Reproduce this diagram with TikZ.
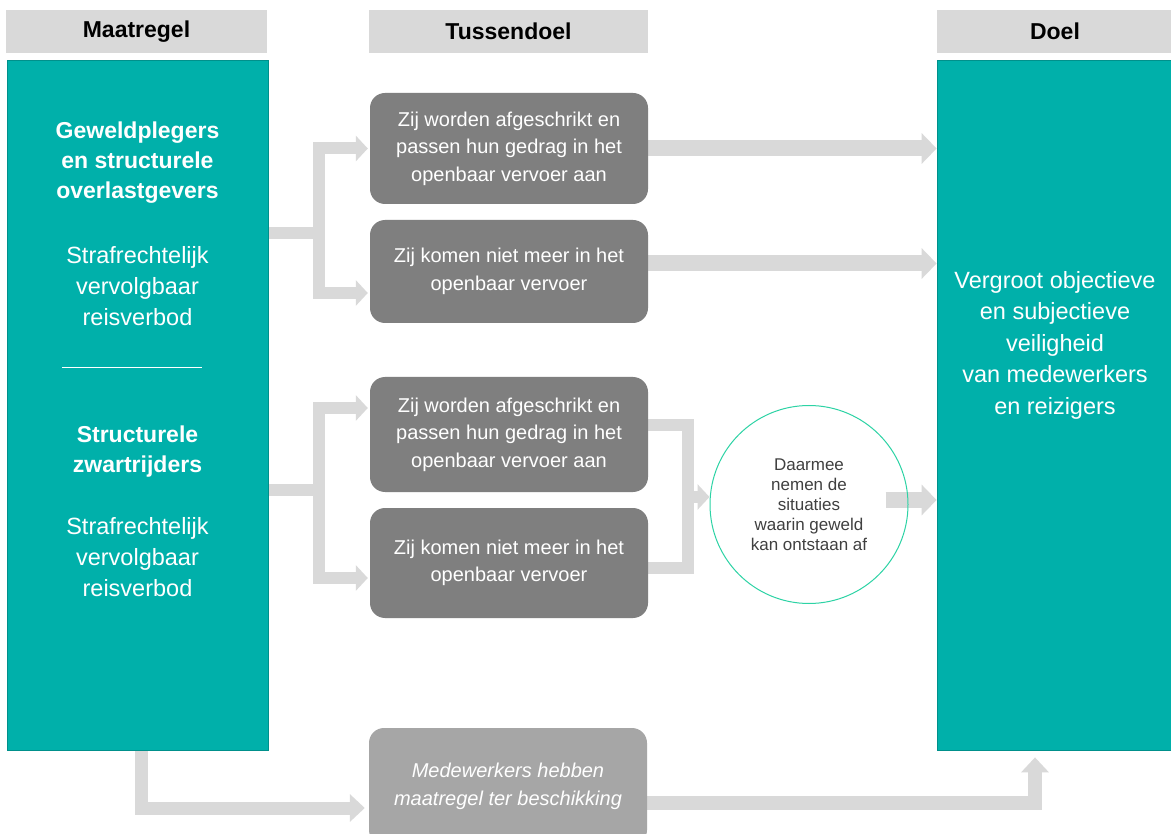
\documentclass[tikz,border=0pt]{standalone}
\usepackage{fontspec}
\setmainfont{Liberation Sans}
\usetikzlibrary{arrows.meta,backgrounds}
\definecolor{tealbox}{HTML}{00B0AA}
\definecolor{tealedge}{HTML}{00908B}
\definecolor{hdr}{HTML}{D9D9D9}
\definecolor{darkbox}{HTML}{7F7F7F}
\definecolor{lightbox}{HTML}{A6A6A6}
\definecolor{conn}{HTML}{D9D9D9}
\definecolor{ring}{HTML}{2DD3A5}
\definecolor{ctext}{HTML}{404040}
\begin{document}
\begin{tikzpicture}[x=1pt,y=-1pt,
  hdrbox/.style={fill=hdr, inner sep=0pt, minimum height=43pt, text=black,
    font=\fontsize{23}{28}\selectfont\bfseries},
  tealcol/.style={fill=tealbox, draw=tealedge, line width=0.8pt, inner sep=0pt},
  graybox/.style={fill=darkbox, rounded corners=15pt, inner sep=0pt,
    minimum width=278pt, text=white, align=center,
    font=\fontsize{20}{27.5}\selectfont},
  wtext/.style={text=white, align=center, inner sep=0pt},
  barline/.style={draw=conn, line width=12pt, line join=miter},
  thinarrow/.style={barline, -{Triangle[width=25pt,length=12pt]}},
  thickarrow/.style={draw=conn, line width=16pt, line join=miter,
    -{Triangle[width=30pt,length=15pt]}},
  midarrow/.style={draw=conn, line width=14pt, line join=miter,
    -{Triangle[width=27pt,length=15pt]}}
]
\useasboundingbox (0,0) rectangle (1171,834);
\clip (0,0) rectangle (1171,834);

% headers
\node[hdrbox, minimum width=261pt] (h1) at (136.5,31.5) {Maatregel};
\node[hdrbox, minimum width=279pt] (h2) at (508.5,31.5) {Tussendoel};
\node[hdrbox, minimum width=236pt] (h3) at (1055,31.5) {Doel};

% teal columns
\node[tealcol, minimum width=261pt, minimum height=690pt] (L) at (137.5,405) {};
\node[tealcol, minimum width=236pt, minimum height=690pt] (R) at (1055,405) {};

% left column texts
\node[wtext, font=\fontsize{23}{30}\selectfont\bfseries] (lt1) at (137.5,163)
  {Geweldplegers\\en structurele\\overlastgevers};
\node[wtext, font=\fontsize{23.5}{31}\selectfont] (lt2) at (137.5,286)
  {Strafrechtelijk\\vervolgbaar\\reisverbod};
\node[wtext, font=\fontsize{23}{30}\selectfont\bfseries] (lt3) at (137.5,452)
  {Structurele\\zwartrijders};
\node[wtext, font=\fontsize{23.5}{31}\selectfont] (lt4) at (137.5,557)
  {Strafrechtelijk\\vervolgbaar\\reisverbod};
\coordinate (sepl) at (62,368);
\coordinate (sepr) at (202,368);
\draw[white, line width=1pt] (sepl) -- (sepr);

% right column text
\node[wtext, font=\fontsize{23.5}{31.5}\selectfont] (rt) at (1055,345)
  {Vergroot objectieve\\en subjectieve\\veiligheid\\van medewerkers\\en reizigers};

% intermediate boxes
\node[graybox, minimum height=111pt] (b1) at (509,148.5)
  {Zij worden afgeschrikt en\\passen hun gedrag in het\\openbaar vervoer aan};
\node[graybox, minimum height=103pt] (b2) at (509,271.5)
  {Zij komen niet meer in het\\openbaar vervoer};
\node[graybox, minimum height=115pt] (b3) at (509,434.5)
  {Zij worden afgeschrikt en\\passen hun gedrag in het\\openbaar vervoer aan};
\node[graybox, minimum height=110pt] (b4) at (509,563)
  {Zij komen niet meer in het\\openbaar vervoer};
\node[graybox, fill=lightbox, minimum height=117pt,
  font=\fontsize{20}{27.5}\selectfont\itshape] (b5) at (508,786.5)
  {Medewerkers hebben\\maatregel ter beschikking};

% circle
\node[circle, draw=ring, line width=1pt, minimum size=198pt, inner sep=0pt,
  text=ctext, align=center, font=\fontsize{17}{20}\selectfont] (c) at (809,504.5)
  {Daarmee\\nemen de\\situaties\\waarin geweld\\kan ontstaan af};

% connectors
\begin{scope}[on background layer]
  \fill[white] (0,0) rectangle (1171,834);
  \coordinate (ja) at (319,233);
  \coordinate (jb) at (319,490);
  \draw[thinarrow, shorten >=2pt] (L.east |- ja) -- (ja) |- (b1.west);
  \draw[thinarrow, shorten >=2pt] (L.east |- ja) -- (ja) |- ([yshift=-21.5pt]b2.west);
  \draw[thinarrow, shorten >=2pt] (L.east |- jb) -- (jb) |- ([yshift=26.5pt]b3.west);
  \draw[thinarrow, shorten >=2pt] (L.east |- jb) -- (jb) |- ([yshift=-15pt]b4.west);

  \draw[thickarrow] (b1.east) -- (b1.east -| R.west);
  \coordinate (b2o) at ([yshift=8pt]b2.east);
  \draw[thickarrow] (b2o) -- (b2o -| R.west);

  \coordinate (cj) at (688,497);
  \draw[barline] ([yshift=9.5pt]b3.east) -| (cj);
  \draw[barline] ([yshift=-5pt]b4.east) -| (cj);
  \draw[thinarrow] (cj) -- (c.west |- cj);

  \coordinate (cs) at ([xshift=-23pt,yshift=4.5pt]c.east);
  \draw[thickarrow] (cs) -- (cs -| R.west);

  \draw[midarrow, line width=13pt, shorten >=4pt]
    ([xshift=3.5pt]L.south) |- ([yshift=-21.5pt]b5.west);
  \draw[midarrow, shorten >=7pt]
    ([yshift=-16.5pt]b5.east) -| ([xshift=-20pt]R.south);
\end{scope}
\end{tikzpicture}
\end{document}
